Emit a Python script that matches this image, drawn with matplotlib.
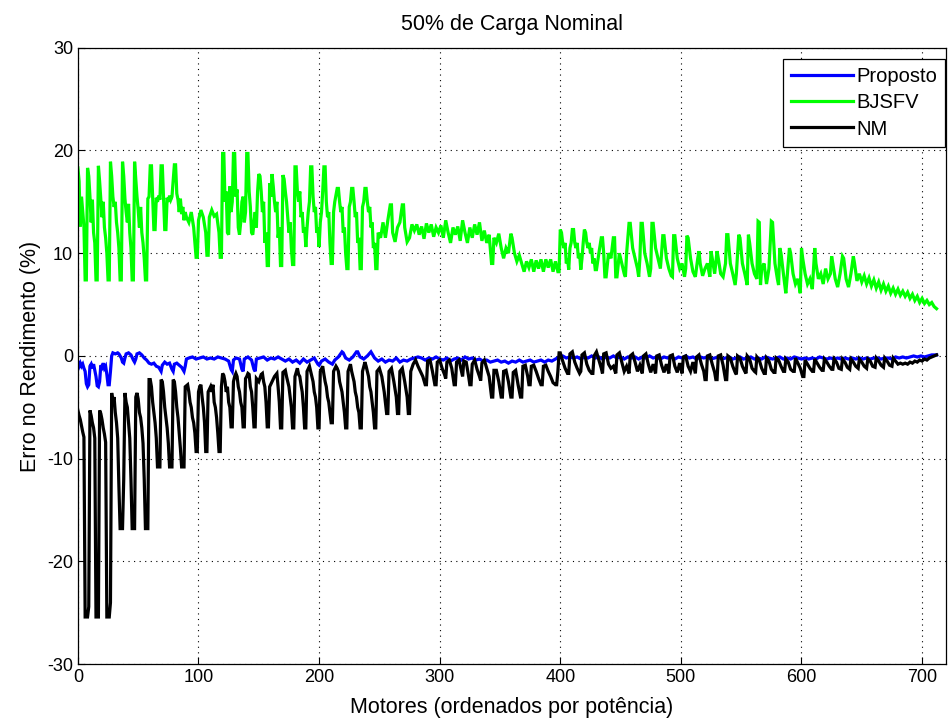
import matplotlib
matplotlib.use('Agg')
import matplotlib.pyplot as plt

plt.rcParams['font.family'] = ['Liberation Sans', 'DejaVu Sans']
plt.rcParams['axes.unicode_minus'] = False

# vertices (motor index, error %)
proposto = [(0, -0.6), (1, -1.0), (2, -0.7), (3, -1.0), (4, -0.8), (5, -1.2), (6, -1.5), (7, -2.7), (8, -3.0),
            (9, -2.8), (10, -1.0), (11, -0.8), (12, -1.2), (13, -0.8), (14, -1.4), (15, -2.0), (16, -2.9),
            (17, -3.0), (18, -2.5), (19, -0.9), (20, -1.1), (21, -0.7), (22, -1.2), (23, -1.0), (24, -1.8),
            (25, -2.8), (26, -2.8), (27, -1.5), (28, 0.0), (29, 0.3), (31, 0.2), (33, 0.3), (34, 0.2),
            (36, -0.2), (37, -0.6), (38, -0.7), (39, -0.2), (40, 0.2), (42, 0.3), (44, 0.1), (46, -0.4),
            (47, -0.6), (48, -0.3), (49, 0.2), (51, 0.3), (53, 0.1), (55, -0.2), (57, -0.4), (59, -0.7),
            (61, -0.8), (63, -0.7), (65, -1.0), (67, -1.1), (69, -1.5), (70, -0.9), (72, -0.6), (74, -0.8),
            (76, -0.7), (78, -1.3), (79, -1.5), (80, -0.8), (82, -0.7), (84, -0.9), (86, -1.1), (88, -1.5),
            (89, -1.0), (90, -0.3), (92, -0.2), (95, -0.1), (98, -0.3), (101, -0.2), (104, -0.1), (107, -0.3),
            (110, -0.2), (113, -0.3), (116, -0.1), (119, -0.2), (122, -0.3), (125, -0.5), (127, -1.3),
            (128, -1.5), (129, -0.4), (131, -0.2), (134, -0.3), (136, -1.3), (137, -1.5), (138, -0.3),
            (141, -0.1), (144, -0.4), (146, -1.3), (147, -1.5), (148, -0.3), (151, -0.2), (154, -0.1),
            (157, -0.4), (160, -0.2), (163, -0.3), (166, -0.1), (169, -0.3), (172, -0.5), (175, -0.3),
            (178, -0.6), (181, -0.4), (184, -0.7), (187, -0.3), (190, -0.6), (193, -0.4), (196, -0.2),
            (199, -0.8), (200, -0.9), (202, -0.5), (205, -0.3), (208, -0.6), (211, -0.8), (213, -0.4),
            (216, -0.1), (219, 0.4), (220, 0.3), (222, -0.2), (225, -0.4), (228, -0.1), (231, 0.4), (232, 0.4),
            (234, -0.1), (237, -0.3), (240, 0.0), (243, 0.4), (244, 0.2), (246, -0.2), (249, -0.5), (252, -0.3),
            (255, -0.6), (258, -0.4), (261, -0.5), (264, -0.2), (267, -0.6), (270, -0.4), (273, -0.5),
            (276, -0.3), (279, -0.2), (282, -0.1), (285, -0.2), (288, -0.4), (291, -0.2), (294, -0.3),
            (297, -0.1), (300, -0.3), (303, -0.4), (306, -0.2), (309, -0.5), (312, -0.3), (315, -0.2),
            (318, -0.4), (321, -0.1), (324, -0.3), (327, -0.2), (330, -0.4), (333, -0.3), (336, -0.5),
            (339, -0.4), (342, -0.6), (345, -0.5), (348, -0.4), (351, -0.6), (354, -0.5), (357, -0.7),
            (360, -0.5), (363, -0.6), (366, -0.4), (369, -0.6), (372, -0.5), (375, -0.4), (378, -0.6),
            (381, -0.5), (384, -0.4), (387, -0.6), (390, -0.4), (393, -0.5), (396, -0.3), (399, -0.1),
            (402, 0.0), (405, -0.2), (408, -0.1), (411, -0.2), (414, -0.1), (417, -0.3), (420, -0.1),
            (423, -0.2), (426, 0.0), (429, -0.2), (432, -0.1), (435, -0.3), (438, -0.1), (441, -0.2),
            (444, 0.0), (447, -0.2), (450, -0.1), (453, -0.3), (456, -0.1), (459, -0.2), (462, -0.1),
            (465, -0.3), (468, -0.1), (471, -0.2), (474, 0.0), (477, -0.2), (480, -0.1), (483, -0.3),
            (486, -0.1), (489, -0.2), (492, -0.1), (495, -0.3), (498, -0.1), (501, -0.2), (504, 0.0),
            (507, -0.2), (510, -0.1), (513, -0.3), (516, -0.1), (519, -0.2), (522, -0.1), (525, -0.3),
            (528, -0.2), (531, -0.1), (534, -0.3), (537, -0.2), (540, -0.1), (543, -0.3), (546, -0.2),
            (549, -0.1), (552, -0.3), (555, -0.2), (558, -0.1), (561, -0.3), (564, -0.2), (567, -0.3),
            (570, -0.1), (573, -0.2), (576, -0.3), (579, -0.2), (582, -0.1), (585, -0.3), (588, -0.2),
            (591, -0.3), (594, -0.1), (597, -0.2), (600, -0.3), (603, -0.2), (606, -0.3), (609, -0.2),
            (612, -0.3), (615, -0.1), (618, -0.2), (621, -0.3), (624, -0.2), (627, -0.3), (630, -0.2),
            (633, -0.3), (636, -0.2), (639, -0.3), (642, -0.2), (645, -0.3), (648, -0.2), (651, -0.3),
            (654, -0.2), (657, -0.3), (660, -0.2), (663, -0.2), (666, -0.3), (669, -0.2), (672, -0.2),
            (675, -0.3), (678, -0.1), (681, -0.2), (684, -0.1), (687, -0.2), (690, -0.1), (693, 0.0),
            (696, -0.1), (699, 0.0), (702, -0.1), (705, 0.0), (708, 0.1), (710, 0.1), (712, 0.1)]

bjsfv = [(0, 18.3), (1, 17.0), (2, 12.6), (3, 15.5), (4, 14.0), (5, 12.6), (6, 7.4), (7, 7.4), (8, 18.3),
         (9, 17.5), (10, 15.5), (11, 13.0), (12, 15.2), (13, 12.0), (14, 11.0), (15, 7.4), (16, 7.4),
         (17, 18.5), (18, 17.0), (19, 15.2), (20, 13.5), (21, 15.0), (22, 12.5), (23, 11.5), (24, 10.0),
         (25, 7.4), (26, 7.4), (27, 18.9), (28, 17.5), (29, 15.5), (30, 14.5), (31, 15.0), (32, 13.0),
         (33, 12.0), (34, 10.5), (35, 7.4), (36, 7.4), (37, 18.9), (38, 17.5), (39, 15.3), (40, 14.0),
         (41, 13.0), (42, 14.8), (43, 12.0), (44, 10.5), (45, 7.4), (46, 7.4), (47, 18.9), (48, 17.2),
         (49, 15.5), (50, 14.2), (51, 12.5), (52, 14.5), (53, 12.0), (54, 11.0), (55, 9.5), (56, 7.4),
         (57, 7.4), (58, 15.3), (59, 15.5), (60, 18.5), (61, 18.5), (62, 15.5), (63, 12.3), (64, 12.3),
         (65, 15.4), (66, 15.0), (67, 15.6), (68, 15.2), (69, 18.5), (70, 18.5), (71, 15.5), (72, 12.3),
         (73, 12.3), (74, 15.4), (75, 15.0), (76, 15.6), (77, 15.2), (78, 15.5), (80, 18.6), (81, 18.6),
         (82, 15.8), (83, 15.2), (84, 14.0), (85, 15.3), (86, 13.8), (87, 14.5), (88, 13.2), (89, 14.0),
         (90, 13.5), (92, 13.0), (94, 14.0), (96, 12.5), (98, 9.6), (99, 9.6), (100, 13.2), (102, 14.2),
         (104, 13.5), (106, 12.0), (107, 9.8), (108, 9.8), (109, 13.5), (111, 14.2), (113, 13.6),
         (115, 13.8), (117, 12.0), (118, 9.6), (119, 9.6), (120, 19.7), (121, 19.7), (122, 15.0),
         (123, 16.0), (124, 12.0), (125, 11.8), (126, 16.5), (127, 14.0), (128, 15.0), (129, 19.7),
         (130, 19.7), (131, 15.5), (132, 16.2), (133, 12.5), (134, 11.8), (135, 13.0), (136, 15.0),
         (137, 15.5), (138, 13.0), (139, 14.0), (140, 19.7), (141, 19.7), (142, 16.0), (143, 14.5),
         (144, 12.0), (145, 11.8), (146, 13.0), (147, 14.0), (148, 12.5), (149, 16.0), (150, 17.7),
         (151, 17.5), (152, 16.0), (153, 14.0), (154, 15.0), (155, 11.0), (156, 12.0), (157, 8.8),
         (158, 8.8), (159, 16.8), (160, 15.5), (161, 17.7), (162, 16.5), (163, 15.0), (164, 14.0),
         (165, 15.0), (166, 11.5), (167, 12.5), (168, 8.8), (169, 8.8), (170, 17.6), (171, 17.2),
         (172, 16.0), (173, 15.0), (174, 13.5), (175, 12.0), (176, 13.0), (177, 10.5), (178, 8.9),
         (179, 8.9), (180, 18.4), (181, 18.4), (182, 16.0), (183, 15.0), (184, 16.0), (185, 13.5),
         (186, 14.0), (187, 12.0), (188, 12.5), (189, 10.6), (190, 12.5), (191, 14.0), (192, 15.0),
         (193, 18.4), (194, 18.4), (195, 15.5), (196, 14.0), (197, 14.5), (198, 12.0), (199, 12.5),
         (200, 10.6), (201, 13.0), (202, 14.0), (203, 16.0), (204, 18.4), (205, 18.4), (206, 15.0),
         (207, 13.5), (208, 14.0), (209, 11.0), (210, 9.0), (211, 9.0), (212, 14.0), (213, 15.0),
         (215, 16.3), (216, 16.3), (217, 15.0), (218, 14.0), (219, 14.5), (220, 12.0), (221, 12.5),
         (222, 10.0), (223, 8.5), (224, 8.5), (225, 14.5), (226, 15.0), (227, 16.3), (228, 16.3),
         (229, 15.0), (230, 13.5), (231, 14.0), (232, 11.0), (233, 11.5), (234, 8.5), (235, 8.5),
         (236, 14.5), (237, 15.0), (238, 16.3), (239, 16.3), (240, 15.0), (241, 14.0), (242, 14.5),
         (243, 12.5), (244, 13.0), (245, 10.5), (246, 11.0), (247, 8.5), (248, 8.5), (249, 12.0),
         (251, 11.5), (253, 13.0), (255, 11.5), (257, 13.2), (259, 14.7), (260, 14.7), (261, 12.0),
         (263, 11.1), (265, 12.5), (267, 13.0), (269, 14.7), (270, 14.7), (271, 12.5), (273, 11.1),
         (275, 11.5), (277, 12.8), (279, 12.2), (281, 12.8), (283, 11.8), (285, 12.6), (287, 11.4),
         (289, 12.9), (291, 12.0), (293, 12.8), (295, 11.6), (297, 12.5), (299, 12.0), (301, 12.7),
         (303, 11.5), (305, 13.2), (307, 12.0), (309, 11.0), (311, 12.5), (313, 11.8), (315, 12.6),
         (317, 11.2), (319, 13.2), (321, 12.0), (323, 11.0), (325, 12.5), (327, 11.5), (329, 12.8),
         (331, 11.8), (333, 13.0), (335, 11.2), (337, 12.2), (339, 11.0), (341, 11.8), (343, 9.0),
         (344, 9.0), (345, 11.5), (347, 11.0), (349, 11.9), (351, 10.5), (353, 9.5), (355, 10.5),
         (357, 10.0), (359, 11.9), (360, 11.5), (362, 10.0), (364, 9.2), (366, 9.8), (368, 9.0), (370, 8.2),
         (372, 9.2), (374, 8.6), (376, 9.4), (378, 8.2), (380, 9.3), (382, 8.5), (384, 9.4), (386, 8.2),
         (388, 9.4), (390, 8.6), (392, 9.4), (394, 8.2), (396, 9.2), (398, 8.2), (399, 8.2), (400, 12.3),
         (401, 12.0), (402, 11.0), (403, 10.5), (404, 11.0), (405, 9.0), (406, 9.5), (407, 8.4), (408, 10.5),
         (409, 11.0), (410, 12.3), (411, 12.3), (412, 11.0), (413, 10.5), (414, 11.0), (415, 9.5),
         (416, 10.0), (417, 8.4), (418, 9.5), (419, 11.0), (420, 12.3), (421, 12.0), (422, 11.0),
         (423, 10.5), (424, 11.0), (425, 10.0), (426, 10.5), (427, 9.0), (428, 9.5), (429, 8.4), (430, 8.4),
         (432, 10.0), (434, 11.5), (435, 11.5), (436, 10.0), (437, 7.7), (438, 7.7), (440, 10.0), (442, 9.5),
         (444, 11.5), (445, 11.5), (446, 7.7), (447, 7.7), (449, 10.0), (451, 9.0), (453, 8.0), (454, 7.7),
         (455, 10.0), (457, 12.9), (458, 12.9), (460, 10.5), (462, 9.5), (464, 8.5), (465, 7.7), (466, 9.5),
         (467, 12.9), (468, 12.9), (470, 10.0), (472, 9.0), (474, 7.7), (475, 8.5), (476, 12.9), (477, 12.9),
         (479, 10.5), (481, 9.5), (483, 8.5), (484, 10.0), (485, 11.7), (486, 11.7), (488, 9.5), (490, 8.5),
         (492, 7.8), (493, 7.7), (494, 11.7), (495, 11.7), (497, 9.5), (499, 8.5), (501, 9.0), (503, 7.7),
         (504, 8.5), (505, 11.7), (506, 11.5), (508, 9.5), (510, 8.2), (512, 7.7), (514, 9.5), (515, 10.2),
         (516, 9.0), (518, 7.8), (520, 8.5), (522, 9.0), (524, 7.7), (525, 10.2), (526, 9.5), (528, 8.0),
         (530, 10.2), (531, 9.5), (533, 8.0), (535, 7.7), (537, 9.0), (538, 11.8), (539, 11.8), (541, 9.0),
         (543, 8.0), (545, 6.9), (546, 8.0), (548, 11.8), (549, 11.5), (551, 9.0), (553, 8.0), (555, 6.9),
         (556, 11.8), (557, 11.0), (559, 9.0), (561, 8.0), (563, 7.5), (564, 13.1), (565, 13.0), (566, 6.9),
         (567, 8.5), (569, 9.0), (571, 7.0), (573, 8.5), (575, 13.1), (576, 13.0), (578, 9.0), (580, 7.5),
         (581, 6.9), (582, 10.5), (583, 10.0), (585, 8.0), (587, 6.1), (588, 7.5), (590, 10.5), (591, 10.0),
         (593, 8.0), (595, 7.0), (597, 7.5), (599, 6.1), (600, 10.5), (601, 9.5), (603, 8.0), (605, 7.0),
         (607, 7.5), (609, 6.5), (611, 10.5), (612, 9.0), (614, 7.5), (616, 8.0), (618, 7.0), (620, 8.5),
         (622, 7.5), (624, 8.0), (625, 9.7), (626, 9.0), (628, 7.5), (630, 6.7), (632, 8.0), (634, 9.7),
         (635, 9.5), (637, 7.5), (639, 6.7), (641, 8.0), (643, 9.7), (644, 9.0), (646, 7.3), (648, 8.0),
         (650, 7.2), (652, 7.8), (654, 7.0), (656, 7.6), (658, 6.8), (660, 7.4), (662, 6.6), (664, 7.2),
         (666, 6.4), (668, 7.0), (670, 6.3), (672, 6.8), (674, 6.1), (676, 6.6), (678, 6.0), (680, 6.5),
         (682, 5.9), (684, 6.3), (686, 5.8), (688, 6.2), (690, 5.6), (692, 6.0), (694, 5.4), (696, 5.8),
         (698, 5.2), (700, 5.6), (702, 5.1), (704, 5.4), (706, 5.0), (708, 5.2), (710, 4.8), (712, 4.6)]

nm = [(0, -5.3), (1, -5.8), (2, -6.2), (3, -6.8), (4, -7.4), (5, -7.9), (6, -25.4), (8, -25.4), (9, -24.4),
      (10, -5.3), (11, -5.8), (12, -6.5), (13, -7.0), (14, -8.0), (15, -25.4), (17, -25.4), (18, -5.3),
      (19, -5.6), (20, -6.2), (21, -7.0), (22, -7.6), (23, -8.4), (24, -25.4), (26, -25.4), (27, -24.0),
      (28, -3.6), (29, -4.5), (30, -4.0), (31, -5.5), (32, -6.5), (33, -8.0), (34, -12.7), (35, -16.8),
      (37, -16.8), (38, -12.0), (39, -3.6), (40, -4.5), (41, -5.0), (42, -6.5), (43, -8.0), (44, -12.0),
      (45, -16.8), (47, -16.8), (48, -4.0), (49, -3.6), (50, -4.2), (51, -5.5), (52, -6.0), (53, -7.0),
      (54, -8.5), (55, -12.0), (56, -16.8), (58, -16.8), (59, -2.3), (60, -2.3), (61, -3.0), (62, -4.5),
      (63, -5.5), (64, -6.5), (65, -8.0), (66, -10.8), (68, -10.8), (69, -2.3), (70, -2.5), (71, -3.5),
      (72, -5.0), (73, -6.0), (74, -7.0), (75, -8.5), (76, -10.8), (78, -10.8), (79, -2.3), (80, -2.5),
      (81, -3.5), (82, -5.0), (83, -6.0), (84, -7.5), (85, -9.0), (86, -10.8), (88, -10.8), (89, -3.0),
      (91, -2.8), (92, -3.5), (93, -4.5), (94, -5.0), (95, -6.0), (96, -6.5), (97, -7.5), (98, -9.3),
      (99, -9.3), (100, -3.5), (101, -3.0), (102, -2.8), (103, -4.0), (104, -5.0), (105, -6.5), (106, -9.3),
      (107, -9.3), (108, -3.5), (110, -3.0), (111, -3.5), (112, -2.8), (113, -4.5), (114, -5.0),
      (115, -6.0), (116, -7.5), (117, -9.3), (118, -9.3), (119, -3.0), (120, -1.7), (121, -1.9),
      (122, -2.5), (123, -3.5), (124, -3.0), (125, -4.5), (126, -5.0), (127, -6.9), (128, -6.9),
      (129, -2.5), (130, -2.0), (131, -1.7), (132, -2.0), (133, -3.0), (134, -3.5), (135, -4.5),
      (136, -5.0), (137, -6.9), (138, -6.9), (139, -2.2), (140, -2.0), (141, -1.7), (142, -1.8),
      (143, -3.0), (144, -3.5), (145, -5.0), (146, -6.9), (147, -6.9), (148, -2.2), (150, -2.5),
      (152, -1.8), (153, -1.7), (154, -2.5), (155, -3.0), (156, -4.5), (157, -6.9), (158, -6.9),
      (159, -3.0), (161, -2.5), (163, -2.0), (165, -1.7), (166, -3.0), (167, -4.5), (168, -7.0),
      (169, -7.0), (170, -1.6), (172, -1.4), (173, -2.0), (174, -2.5), (175, -3.0), (176, -4.0),
      (177, -5.0), (178, -7.0), (179, -7.0), (180, -2.0), (182, -1.2), (183, -1.8), (184, -2.0),
      (185, -2.8), (186, -3.5), (187, -5.0), (188, -7.0), (189, -7.0), (190, -1.5), (192, -1.0),
      (193, -1.5), (194, -2.0), (195, -2.5), (196, -3.5), (197, -4.0), (198, -5.0), (199, -7.0),
      (200, -7.0), (201, -1.5), (203, -1.0), (204, -1.8), (205, -2.5), (206, -3.0), (207, -4.0),
      (208, -4.5), (209, -5.5), (210, -6.5), (211, -6.5), (212, -1.5), (214, -1.0), (215, -1.2),
      (216, -1.5), (217, -2.5), (218, -3.0), (219, -3.5), (220, -4.5), (221, -5.5), (222, -7.0),
      (223, -7.0), (224, -1.5), (226, -0.8), (227, -1.5), (228, -2.0), (229, -2.5), (230, -3.5),
      (231, -4.0), (232, -5.0), (233, -5.5), (234, -7.0), (235, -7.0), (236, -1.5), (238, -0.6),
      (239, -1.0), (240, -1.5), (241, -2.0), (242, -3.0), (243, -3.5), (244, -4.5), (245, -5.5),
      (246, -7.0), (247, -7.0), (248, -1.5), (250, -1.2), (252, -2.0), (254, -3.5), (256, -5.6),
      (257, -5.6), (258, -1.5), (260, -1.2), (262, -2.5), (264, -4.0), (265, -5.6), (266, -5.6),
      (267, -1.5), (269, -1.2), (271, -2.5), (273, -4.0), (274, -5.6), (275, -5.6), (276, -1.5),
      (278, -0.8), (280, -0.4), (282, -1.0), (284, -1.5), (286, -2.0), (288, -2.8), (289, -2.8),
      (290, -0.5), (292, -0.4), (294, -1.5), (296, -2.8), (297, -2.8), (298, -0.6), (300, -0.4),
      (302, -1.2), (304, -1.8), (305, -2.2), (306, -0.6), (308, -0.4), (310, -1.2), (312, -2.8),
      (313, -2.8), (314, -0.6), (316, -0.4), (318, -1.5), (319, -2.0), (320, -0.5), (322, -0.6),
      (324, -2.0), (325, -2.8), (326, -2.8), (327, -0.8), (329, -0.4), (331, -1.3), (333, -2.0),
      (334, -2.4), (335, -0.7), (337, -0.4), (339, -1.2), (341, -2.0), (343, -4.0), (344, -4.0),
      (345, -1.4), (347, -1.4), (349, -2.5), (351, -4.0), (352, -4.0), (353, -1.5), (355, -1.4),
      (357, -2.5), (359, -4.0), (360, -4.0), (361, -1.6), (363, -1.4), (365, -2.8), (367, -4.0),
      (368, -4.0), (369, -1.0), (371, -0.9), (373, -2.0), (374, -2.8), (375, -2.8), (376, -1.0),
      (378, -0.9), (380, -1.5), (382, -2.2), (384, -2.8), (385, -2.8), (386, -1.0), (388, -0.9),
      (390, -1.5), (392, -2.0), (394, -2.6), (396, -2.8), (397, -2.8), (398, -1.5), (399, 0.3),
      (400, 0.3), (402, -0.5), (404, -1.2), (406, -1.7), (407, -1.7), (408, 0.2), (410, 0.4),
      (412, -0.6), (414, -1.2), (416, -1.7), (417, -1.5), (418, 0.1), (420, 0.3), (422, -0.8),
      (424, -1.4), (426, -1.7), (427, -1.7), (428, 0.0), (430, 0.4), (432, -0.4), (434, -1.2),
      (435, -1.7), (436, 0.2), (438, 0.3), (440, -0.8), (442, -1.2), (444, -1.0), (446, -1.7),
      (447, 0.1), (449, 0.3), (451, -0.6), (453, -1.5), (455, -1.0), (457, -1.7), (458, 0.0),
      (460, 0.2), (462, -0.6), (464, -1.5), (466, -0.9), (468, -1.7), (469, 0.0), (471, 0.2),
      (473, -0.8), (475, -1.6), (477, -0.8), (479, -1.7), (480, 0.0), (482, 0.1), (484, -0.9),
      (486, -1.6), (488, -0.8), (490, -1.7), (491, 0.0), (493, 0.1), (495, -1.0), (497, -1.6),
      (499, -0.7), (501, -1.7), (502, -0.1), (504, 0.0), (506, -1.0), (508, -1.5), (510, -0.6),
      (512, -1.7), (513, -0.1), (515, 0.1), (517, -0.8), (519, -1.5), (520, -2.3), (521, -2.3),
      (522, 0.0), (524, 0.1), (526, -0.8), (528, -1.6), (529, -2.3), (530, -2.3), (531, 0.0),
      (533, 0.1), (535, -0.9), (537, -2.3), (538, -2.3), (539, 0.0), (541, -0.2), (543, -1.0),
      (545, -1.6), (546, -1.8), (547, 0.0), (549, -0.2), (551, -1.0), (553, -1.5), (554, -1.7),
      (555, 0.0), (557, -0.3), (559, -1.2), (561, -1.5), (562, -1.6), (563, -0.1), (565, -0.4),
      (567, -1.2), (569, -1.7), (570, -1.7), (571, -0.2), (573, -0.5), (575, -1.3), (577, -1.6),
      (578, -1.6), (579, -0.2), (581, -0.4), (583, -1.0), (585, -1.5), (586, -1.5), (587, -0.3),
      (589, -0.6), (591, -1.3), (593, -1.5), (594, -1.5), (595, -0.2), (597, -0.7), (599, -1.2),
      (601, -2.0), (602, -2.0), (603, -0.4), (605, -0.8), (607, -1.2), (609, -1.5), (610, -1.5),
      (611, -0.3), (613, -0.7), (615, -1.1), (617, -1.4), (618, -1.4), (619, -0.3), (621, -0.6),
      (623, -1.0), (625, -1.3), (626, -1.3), (627, -0.3), (629, -0.6), (631, -1.2), (633, -1.3),
      (634, -0.3), (636, -0.6), (638, -1.1), (640, -1.3), (641, -0.3), (643, -0.6), (645, -1.0),
      (647, -1.2), (648, -0.3), (650, -0.6), (652, -1.0), (654, -1.2), (655, -0.3), (657, -0.5),
      (659, -1.0), (661, -1.1), (662, -0.2), (664, -0.5), (666, -0.9), (668, -1.1), (669, -0.2),
      (671, -0.5), (673, -0.9), (675, -1.0), (676, -0.2), (678, -0.5), (680, -0.8), (682, -0.7),
      (684, -0.8), (686, -0.7), (688, -0.8), (690, -0.6), (692, -0.7), (694, -0.5), (696, -0.6),
      (698, -0.4), (700, -0.5), (702, -0.3), (704, -0.4), (706, -0.2), (708, -0.1), (710, 0.0), (712, 0.1)]

series_names = ['Proposto', 'BJSFV', 'NM']
series_colors = ['#0000ff', '#00ff00', '#000000']

fig = plt.figure(figsize=(9.5, 7.22), dpi=100)
ax = fig.add_axes([0.082, 0.080, 0.914, 0.854])

for data, name, color in zip([proposto, bjsfv, nm], series_names, series_colors):
    xs, ys = zip(*data)
    ax.plot(xs, ys, color=color, lw=2.3, label=name, solid_joinstyle='miter')

ax.set_xlim(0, 720)
ax.set_ylim(-30, 30)
ax.set_xticks(range(0, 701, 100))
ax.set_yticks(range(-30, 31, 10))
ax.grid(True, linestyle=(0, (1, 4)), color='black', linewidth=0.8)
ax.tick_params(direction='in', labelsize=13, length=5)
for sp in ax.spines.values():
    sp.set_linewidth(0.9)

ax.set_title('50% de Carga Nominal', fontsize=15.5, pad=13)
ax.set_xlabel('Motores (ordenados por potência)', fontsize=15.5, labelpad=8)
ax.set_ylabel('Erro no Rendimento (%)', fontsize=15.5)

leg = ax.legend(loc='upper right', bbox_to_anchor=(0.999, 0.981), borderaxespad=0,
                fontsize=14.5, fancybox=False, framealpha=1, edgecolor='black',
                handlelength=3.1, handletextpad=0.15, labelspacing=0.35, borderpad=0.4)
leg.get_frame().set_linewidth(0.9)

fig.savefig('out.png', dpi=100)
